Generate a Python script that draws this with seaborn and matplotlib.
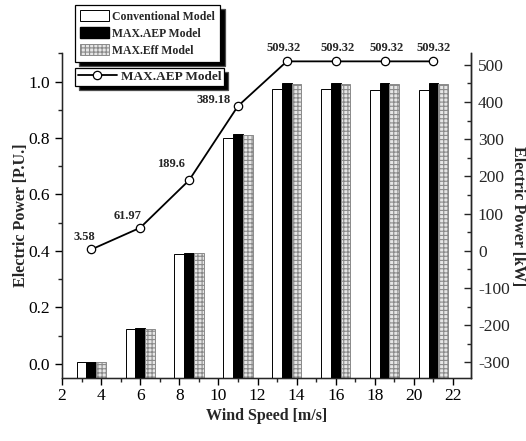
import matplotlib
matplotlib.use("Agg")
import matplotlib.pyplot as plt
import seaborn as sns
import pandas as pd
import numpy as np
from matplotlib.ticker import MultipleLocator, FormatStrFormatter
from matplotlib.patches import Patch

# ---- data ----
wind_speed = [3.5, 6, 8.5, 11, 13.5, 16, 18.5, 21]
conventional_pu = [0.006, 0.125, 0.388, 0.800, 0.972, 0.972, 0.970, 0.970]
max_aep_pu = [0.006, 0.126, 0.394, 0.815, 0.994, 0.994, 0.994, 0.994]
max_eff_pu = [0.006, 0.125, 0.391, 0.810, 0.990, 0.990, 0.990, 0.990]
max_aep_kw = [3.58, 61.97, 189.6, 389.18, 509.32, 509.32, 509.32, 509.32]
kw_labels = ["3.58", "61.97", "189.6", "389.18", "509.32", "509.32", "509.32", "509.32"]
models = ["Conventional Model", "MAX.AEP Model", "MAX.Eff Model"]

df = pd.DataFrame({
    "Wind": wind_speed * 3,
    "PU": conventional_pu + max_aep_pu + max_eff_pu,
    "Model": [models[0]] * 8 + [models[1]] * 8 + [models[2]] * 8,
})

sns.set_style("ticks")
plt.rcParams["font.family"] = ["Liberation Serif", "DejaVu Serif"]
plt.rcParams["hatch.linewidth"] = 0.8
plt.rcParams["axes.unicode_minus"] = False

fig = plt.figure(figsize=(5.26, 4.41), dpi=100)
ax = fig.add_axes([62 / 526, 1 - 378 / 441, (471 - 62) / 526, (378 - 53.3) / 441])

Y0 = -0.05
sns.barplot(data=df, x="Wind", y="PU", hue="Model", hue_order=models,
            native_scale=True, width=0.6, dodge=True,
            palette=["white", "black", "#d4d4d4"], edgecolor="black",
            linewidth=0.7, legend=False, ax=ax, errorbar=None)

# style the bars, draw them up from the axis floor
for i, cont in enumerate(ax.containers):
    for p in cont.patches:
        h = p.get_height()
        p.set_y(Y0)
        p.set_height(h - Y0)
        if i == 2:
            p.set_hatch("++++")
            p.set_edgecolor("#8a8a8a")
            p.set_facecolor("#e6e6e6")

ax.set_xlim(2, 22.92)
ax.set_ylim(Y0, 1.1)
ax.xaxis.set_major_locator(MultipleLocator(2))
ax.xaxis.set_minor_locator(MultipleLocator(1))
ax.yaxis.set_major_locator(MultipleLocator(0.2))
ax.yaxis.set_minor_locator(MultipleLocator(0.1))
ax.yaxis.set_major_formatter(FormatStrFormatter("%.1f"))
ax.tick_params(axis="both", which="major", labelsize=12.5, length=5, width=1, direction="out", colors="black")
ax.tick_params(axis="x", which="major", pad=2)
ax.tick_params(axis="both", which="minor", length=3, width=1, direction="out")
ax.spines["top"].set_visible(False)
for s in ["left", "bottom", "right"]:
    ax.spines[s].set_linewidth(1)
    ax.spines[s].set_color("black")
ax.set_xlabel("Wind Speed [m/s]", fontsize=11.5, fontweight="bold", labelpad=3)
ax.set_ylabel("Electric Power [P.U.]", fontsize=11.5, fontweight="bold", labelpad=0)

# ---- secondary axis ----
ax2 = ax.twinx()
sns.lineplot(x=wind_speed, y=max_aep_kw, ax=ax2, color="black", linewidth=1.3,
             marker="o", markersize=6, markerfacecolor="white",
             markeredgecolor="black", markeredgewidth=0.9, label="MAX.AEP Model")
ax2.set_ylim(-342, 531)
ax2.yaxis.set_major_locator(MultipleLocator(100))
ax2.yaxis.set_minor_locator(MultipleLocator(50))
ax2.tick_params(axis="y", which="major", labelsize=12.5, length=5, width=1, direction="in", pad=5)
ax2.tick_params(axis="y", which="minor", length=3, width=1, direction="in")
ax2.spines["top"].set_visible(False)
ax2.spines["right"].set_linewidth(1)
ax2.set_ylabel("Electric Power [kW]", fontsize=11.5, fontweight="bold", rotation=270, labelpad=12)

offsets = [(-7, 12), (-13, 12), (-18, 16), (-24, 6), (-3, 13), (2, 13), (2, 13), (0, 13)]
for x, y, t, off in zip(wind_speed, max_aep_kw, kw_labels, offsets):
    ax2.annotate(t, (x, y), xytext=off, textcoords="offset pixels",
                 ha="center", va="center", fontsize=9, fontweight="bold")

# ---- legends ----
h1 = [Patch(facecolor="white", edgecolor="black", linewidth=0.7),
      Patch(facecolor="black", edgecolor="black"),
      Patch(facecolor="#e6e6e6", edgecolor="#8a8a8a", hatch="++++", linewidth=0.7)]
shadow = {"ox": 3, "oy": -3, "facecolor": "black", "alpha": 1}
leg1 = ax2.legend(h1, models, loc="upper left",
                  bbox_to_anchor=(75 / 526, 1 - 5 / 441), bbox_transform=fig.transFigure,
                  prop={"family": "Liberation Serif", "weight": "bold", "size": 8.5},
                  frameon=True, fancybox=False, shadow=shadow, framealpha=1,
                  edgecolor="black", borderpad=0.45, labelspacing=0.4,
                  handlelength=2.4, handleheight=1.0, handletextpad=0.3, borderaxespad=0)
leg1.get_frame().set_linewidth(0.9)
ax2.add_artist(leg1)
lh = ax2.get_lines()[0]
leg2 = ax2.legend([lh], ["MAX.AEP Model"], loc="upper left",
                  bbox_to_anchor=(75 / 526, 1 - 68 / 441), bbox_transform=fig.transFigure,
                  prop={"family": "Liberation Serif", "weight": "bold", "size": 9.5},
                  frameon=True, fancybox=False, shadow=shadow, framealpha=1,
                  edgecolor="black", borderpad=0.2, handlelength=3.0,
                  handletextpad=0.3, borderaxespad=0)
leg2.get_frame().set_linewidth(0.9)

fig.savefig("out.png", dpi=100)
